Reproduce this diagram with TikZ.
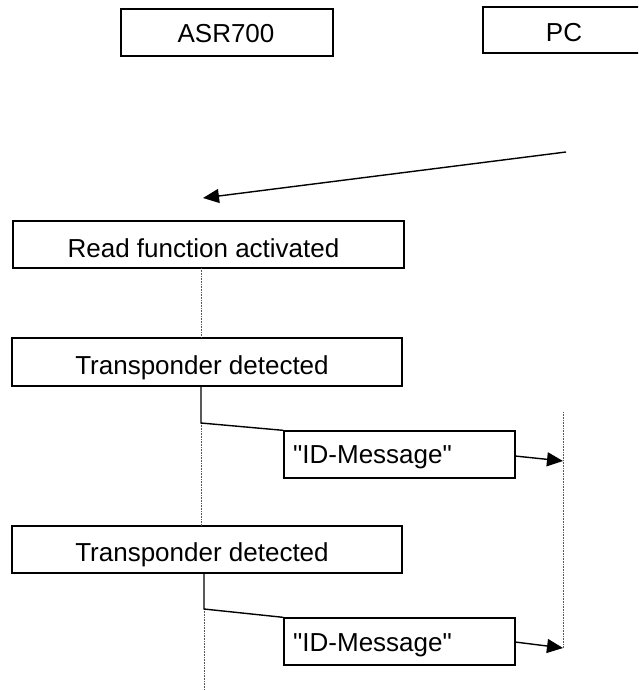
\documentclass[tikz,border=0pt]{standalone}
\usepackage{fontspec}
\setmainfont{Liberation Sans}[Ligatures=TeXOff]
\usetikzlibrary{arrows.meta}
\begin{document}
\begin{tikzpicture}[x=1pt,y=-1pt,
  box/.style={draw, line width=1.3pt, inner sep=0pt, minimum height=47pt},
  lbl/.style={inner sep=0pt, anchor=base, font=\fontsize{26}{30}\selectfont},
  lblw/.style={inner sep=0pt, anchor=base west, font=\fontsize{26}{30}\selectfont},
  life/.style={draw=black!65, line width=0.7pt, dash pattern=on 0.8pt off 0.8pt},
  msg/.style={line width=1.4pt, -{Triangle[length=16pt,width=14pt]}},
  link/.style={line width=1.4pt}]
\useasboundingbox (0,0) rectangle (638,690);
\clip (0,0) rectangle (638,690);

% participant boxes
\node[box, minimum width=212pt] (asr) at (227,32.5) {};
\node[lbl] (asrT) at (226,43) {ASR700};
\node[box, minimum width=170pt, minimum height=46pt] (pc) at (568,30) {};
\node[lbl] (pcT) at (564,42) {PC};

% request arrow from PC
\coordinate (rqS) at (566,152);
\coordinate (rqE) at (203,198);
\draw[msg] (rqS) -- (rqE);

% state boxes
\node[box, minimum width=391pt] (read) at (208.5,244.5) {};
\node[lbl] (readT) at (203.5,257) {Read function activated};
\node[box, minimum width=390pt, minimum height=48pt] (t1) at (207,362) {};
\node[lbl] (t1T) at (202,374) {Transponder detected};
\node[box, minimum width=390pt] (t2) at (207,549.5) {};
\node[lbl] (t2T) at (202,561.5) {Transponder detected};

% message boxes
\node[box, minimum width=231pt] (id1) at (399.5,454.5) {};
\node[lblw] (id1T) at (293,463) {"ID-Message"};
\node[box, minimum width=231pt] (id2) at (399.5,641.5) {};
\node[lblw] (id2T) at (293,651) {"ID-Message"};

% ASR700 lifeline
\coordinate (a1) at (201,268);
\coordinate (a2) at (201,338);
\coordinate (a3) at (201,386);
\coordinate (a4) at (201,423);
\coordinate (a5) at (201,526);
\coordinate (a6) at (204,573);
\coordinate (a7) at (204,609);
\coordinate (a8) at (204,690);
\draw[life] (a1) -- (a2);
\draw[life] (a4) -- (a5);
\draw[life] (a7) -- (a8);

% links from transponder boxes to message boxes
\draw[link] (a3) -- (a4) -- (id1.north west);
\draw[link] (a6) -- (a7) -- (id2.north west);

% PC lifeline
\coordinate (p1) at (563,412);
\coordinate (p2) at (563,461);
\coordinate (p3) at (563,648);
\draw[life] (p1) -- (p3);

% message arrows
\coordinate (m1) at (515,456);
\coordinate (m2) at (515,642);
\draw[msg] (m1) -- (p2);
\draw[msg] (m2) -- (p3);
\end{tikzpicture}
\end{document}
